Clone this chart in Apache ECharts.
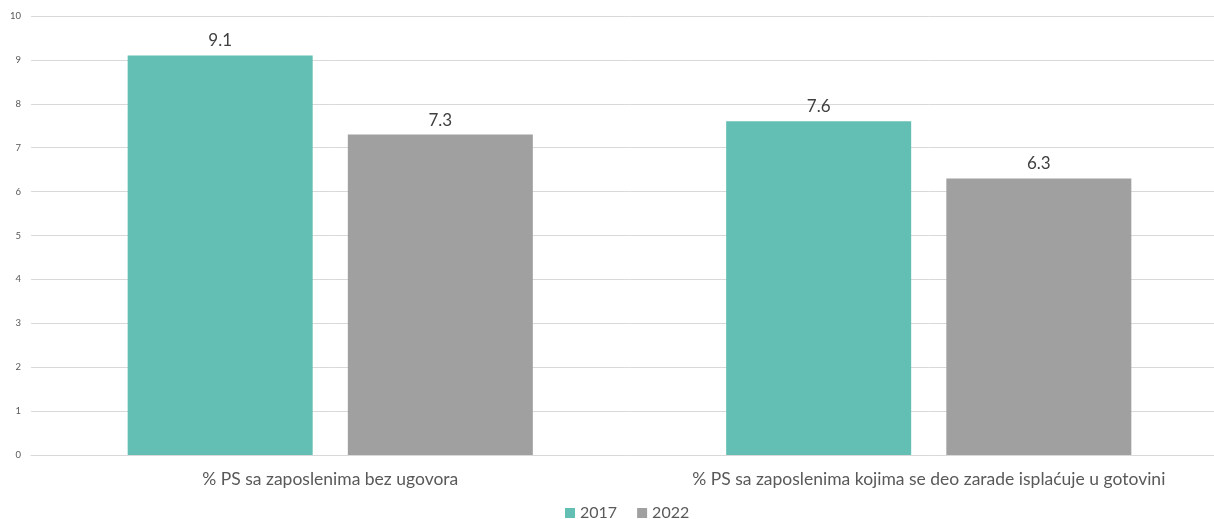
<!DOCTYPE html>
<html><head><meta charset="utf-8">
<script src="https://cdn.jsdelivr.net/npm/echarts@6/dist/echarts.min.js"></script>
<style>html,body{margin:0;padding:0;background:#fff;overflow:hidden;width:1214px;height:519px}#c{width:1228px;height:519px}</style>
</head><body><div id="c"></div>
<script>
const categories = ['% PS sa zaposlenima bez ugovora', '% PS sa zaposlenima kojima se deo zarade isplaćuje u gotovini'];
const series2017 = [9.1, 7.6];
const series2022 = [7.3, 6.3];
const yTicks = [0,1,2,3,4,5,6,7,8,9,10];
const chart = echarts.init(document.getElementById('c'));
const font = 'Lato, "Open Sans", sans-serif';
chart.setOption({
  animation: false,
  textStyle: {fontFamily: font},
  grid: {left: 31, top: 16, right: 0, bottom: 64, containLabel: false},
  legend: {
    top: 500, left: 560, itemWidth: 10, itemHeight: 10, itemGap: 20, icon: 'rect',
    textStyle: {fontSize: 16, color: '#595959', fontFamily: font},
    data: ['2017', '2022']
  },
  xAxis: {
    type: 'category', data: categories,
    axisLine: {lineStyle: {color: '#D9D9D9'}}, axisTick: {show: false},
    axisLabel: {interval: 0, fontSize: 17.5, color: '#595959', margin: 15, fontFamily: font}
  },
  yAxis: {
    type: 'value', min: 0, max: 10, interval: 1,
    axisLine: {show: false}, axisTick: {show: false},
    splitLine: {lineStyle: {color: '#D9D9D9'}},
    axisLabel: {fontSize: 9.5, color: '#595959', margin: 10, fontFamily: font,
      formatter: v => yTicks.includes(v) ? String(v) : ''}
  },
  series: [
    {name: '2017', type: 'bar', data: series2017, barWidth: 185, barGap: '19%',
     itemStyle: {color: '#63BEB4'},
     label: {show: true, position: 'top', fontSize: 17, color: '#404040', distance: 6, fontFamily: font}},
    {name: '2022', type: 'bar', data: series2022, barWidth: 185,
     itemStyle: {color: '#A0A0A0'},
     label: {show: true, position: 'top', fontSize: 17, color: '#404040', distance: 6, fontFamily: font}}
  ]
});
</script></body></html>
